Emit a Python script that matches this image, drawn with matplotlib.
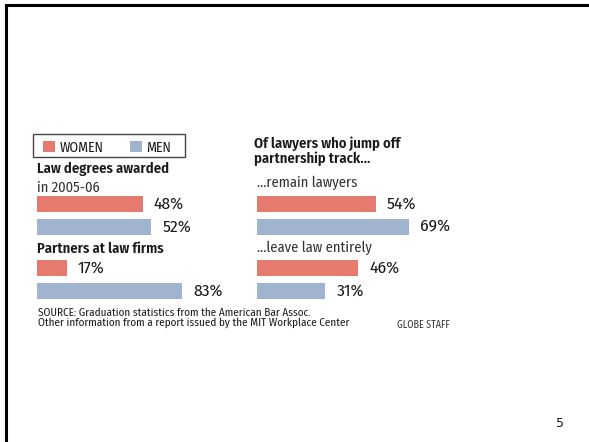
import matplotlib
matplotlib.use("Agg")
import matplotlib.pyplot as plt
from matplotlib.lines import Line2D
from matplotlib.patches import Rectangle

W_PX, H_PX = 589, 442
RED = "#e67a6e"
BLUE = "#a0b4d0"
INK = "#1a1a1a"
FONT = ["Fira Sans Condensed", "DejaVu Sans"]

# data
groups = ["degrees", "partners", "remain", "leave"]
women = [48, 17, 54, 46]
men = [52, 83, 69, 31]

plt.rcParams["font.family"] = FONT


def px(x, y):
    return x / W_PX, 1 - y / H_PX


def box(x, top, w, h):
    return [x / W_PX, 1 - (top + h) / H_PX, w / W_PX, h / H_PX]


fig = plt.figure(figsize=(W_PX / 100, H_PX / 100), dpi=100)
fig.patch.set_facecolor("white")

# slide frame (left + top edge only)
fig.add_artist(Line2D([6 / W_PX, 6 / W_PX], [0, 1 - 5 / H_PX], color="black", lw=2.2))
fig.add_artist(Line2D([6 / W_PX, 1], [1 - 5 / H_PX, 1 - 5 / H_PX], color="black", lw=2.2))

# one axes per bar pair: (left px, top px, width px for 0..100%)
layout = {
    "degrees": (37, 192.5, 220),
    "partners": (37, 256.5, 175),
    "remain": (257, 192.5, 220),
    "leave": (257, 256.5, 220),
}

for g, wv, mv in zip(groups, women, men):
    x0, top, width = layout[g]
    ax = fig.add_axes(box(x0, top, width, 46))
    vals = [wv, mv]
    bars = ax.barh([0, 1], vals, height=0.7, color=[RED, BLUE], edgecolor="none")
    ax.set_xlim(0, 100)
    ax.set_ylim(1.5, -0.5)
    ax.axis("off")
    for b, v in zip(bars, vals):
        ax.annotate(f"{v}%", (v, b.get_y() + b.get_height() / 2),
                    xytext=(8, 0), textcoords="offset points",
                    va="center", ha="left", fontsize=12.5, color=INK)

# legend box
fig.add_artist(Rectangle(px(33, 157), 152 / W_PX, 23 / H_PX, transform=fig.transFigure,
                         fill=False, edgecolor="#444444", lw=1))
fig.add_artist(Rectangle(px(43, 152), 12 / W_PX, 11 / H_PX, transform=fig.transFigure,
                         facecolor=RED, edgecolor="none"))
fig.add_artist(Rectangle(px(130, 152), 12 / W_PX, 11 / H_PX, transform=fig.transFigure,
                         facecolor=BLUE, edgecolor="none"))
fig.text(*px(60, 151.5), "WOMEN", fontsize=10, color=INK, va="baseline")
fig.text(*px(146, 151.5), "MEN", fontsize=10, color=INK, va="baseline")

# headings
head = dict(fontsize=10.5, fontweight="semibold", color=INK, va="baseline")
sub = dict(fontsize=10.5, color="#333333", va="baseline")
fig.text(*px(37, 173), "Law degrees awarded", **head)
fig.text(*px(37, 192), "in 2005-06", **sub)
fig.text(*px(37, 253), "Partners at law firms", **head)
fig.text(*px(254, 148), "Of lawyers who jump off", **head)
fig.text(*px(254, 163), "partnership track...", **head)
fig.text(*px(257, 187), "\u2026remain lawyers", **sub)
fig.text(*px(257, 252), "\u2026leave law entirely", **sub)

# footer
fig.text(*px(38, 316), "SOURCE: Graduation statistics from the American Bar Assoc.",
         fontsize=8, color=INK, va="baseline")
fig.text(*px(38, 326), "Other information from a report issued by the MIT Workplace Center",
         fontsize=8, color=INK, va="baseline")
fig.text(*px(397, 328), "GLOBE STAFF", fontsize=7.2, color="#333333", va="baseline")

fig.text(*px(556, 427), "5", fontsize=9, color=INK, va="baseline", family="DejaVu Sans")

fig.savefig("out.png", dpi=100, facecolor="white")
